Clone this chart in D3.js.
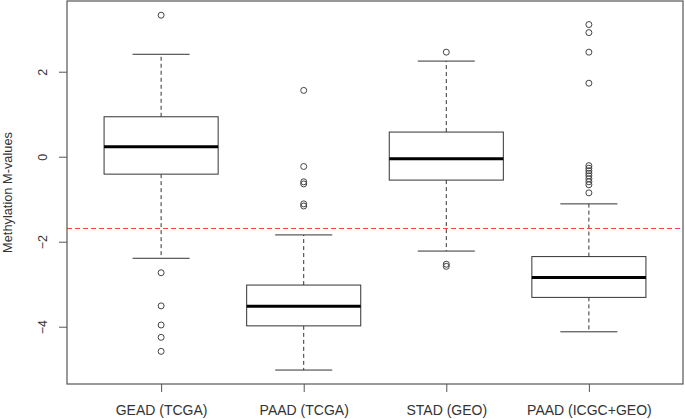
<!DOCTYPE html>
<html><head><meta charset="utf-8">
<script src="https://cdn.jsdelivr.net/npm/d3@7"></script>
<style>body{margin:0;background:#fff;} text{font-family:"Liberation Sans",Arial,sans-serif;}</style>
</head><body><svg id="c" width="685" height="419"></svg>
<script>
const categories = ["GEAD (TCGA)", "PAAD (TCGA)", "STAD (GEO)", "PAAD (ICGC+GEO)"];
const whiskerLow = [-2.39, -5.02, -2.22, -4.12];
const q1 = [-0.41, -3.98, -0.55, -3.31];
const median = [0.235, -3.52, -0.05, -2.84];
const q3 = [0.94, -3.02, 0.58, -2.35];
const whiskerHigh = [2.41, -1.84, 2.25, -1.11];
const outliers = [
  [3.33, -2.73, -3.51, -3.96, -4.25, -4.58],
  [1.56, -0.23, -0.59, -0.64, -1.11, -1.16],
  [2.46, -2.53, -2.58],
  [3.11, 2.92, 2.46, 1.73, -0.21, -0.27, -0.33, -0.39, -0.45, -0.52, -0.59, -0.66, -0.85]
];
const yTicks = [-4, -2, 0, 2];
const cutoff = -1.69;
const yTitle = "Methylation M-values";

const svg = d3.select("#c");
const L = 67, R = 683, T = 1, B = 384;
const x = d3.scaleLinear().domain([0.34, 4.66]).range([L, R]);
const y = d3.scaleLinear().domain([-5.348, 3.664]).range([B, T]);
const bw = (x(1.4) - x(1)); // half box width
const sw = bw / 2;

const g = svg.append("g");
categories.forEach((c, i) => {
  const cx = x(i + 1);
  g.append("line").attr("x1", cx).attr("x2", cx).attr("y1", y(q3[i])).attr("y2", y(whiskerHigh[i]))
    .attr("stroke", "#333").attr("stroke-dasharray", "4,3");
  g.append("line").attr("x1", cx).attr("x2", cx).attr("y1", y(q1[i])).attr("y2", y(whiskerLow[i]))
    .attr("stroke", "#333").attr("stroke-dasharray", "4,3");
  [whiskerHigh[i], whiskerLow[i]].forEach(v => {
    g.append("line").attr("x1", cx - sw).attr("x2", cx + sw).attr("y1", y(v)).attr("y2", y(v))
      .attr("stroke", "#333");
  });
  g.append("rect").attr("x", cx - bw).attr("width", 2 * bw)
    .attr("y", y(q3[i])).attr("height", y(q1[i]) - y(q3[i]))
    .attr("fill", "#fff").attr("stroke", "#333");
  g.append("line").attr("x1", cx - bw).attr("x2", cx + bw).attr("y1", y(median[i])).attr("y2", y(median[i]))
    .attr("stroke", "#000").attr("stroke-width", 3);
  outliers[i].forEach(v => {
    g.append("circle").attr("cx", cx).attr("cy", y(v)).attr("r", 3)
      .attr("fill", "none").attr("stroke", "#444").attr("stroke-width", 1);
  });
});

svg.append("line").attr("x1", L).attr("x2", R).attr("y1", y(cutoff)).attr("y2", y(cutoff))
  .attr("stroke", "#ff3b3b").attr("stroke-dasharray", "5,3").attr("stroke-width", 1);

svg.append("rect").attr("x", L).attr("y", T).attr("width", R - L).attr("height", B - T)
  .attr("fill", "none").attr("stroke", "#555").attr("stroke-width", 1.2);

const ya = svg.append("g").attr("transform", `translate(${L},0)`)
  .call(d3.axisLeft(y).tickValues(yTicks).tickSize(8).tickPadding(0).tickFormat(d3.format("d")));
ya.select(".domain").remove();
ya.selectAll(".tick line").attr("stroke", "#555");
ya.selectAll(".tick text").attr("x", null).attr("dy", null)
  .attr("transform", "translate(-20,0) rotate(-90)")
  .attr("text-anchor", "middle").attr("font-size", 12.5).attr("fill", "#333")
  .attr("font-family", "Liberation Sans, Arial, sans-serif");

const xa = svg.append("g").attr("transform", `translate(0,${B})`)
  .call(d3.axisBottom(x).tickValues([1, 2, 3, 4]).tickSize(8).tickPadding(13)
    .tickFormat(d => categories[d - 1]));
xa.select(".domain").remove();
xa.selectAll(".tick line").attr("stroke", "#555");
xa.selectAll(".tick text").attr("font-size", 14).attr("fill", "#333")
  .attr("font-family", "Liberation Sans, Arial, sans-serif");

svg.append("text").attr("transform", `translate(12,${(T + B) / 2}) rotate(-90)`)
  .attr("text-anchor", "middle").attr("font-size", 12.8).attr("fill", "#333").text(yTitle);
</script></body></html>
